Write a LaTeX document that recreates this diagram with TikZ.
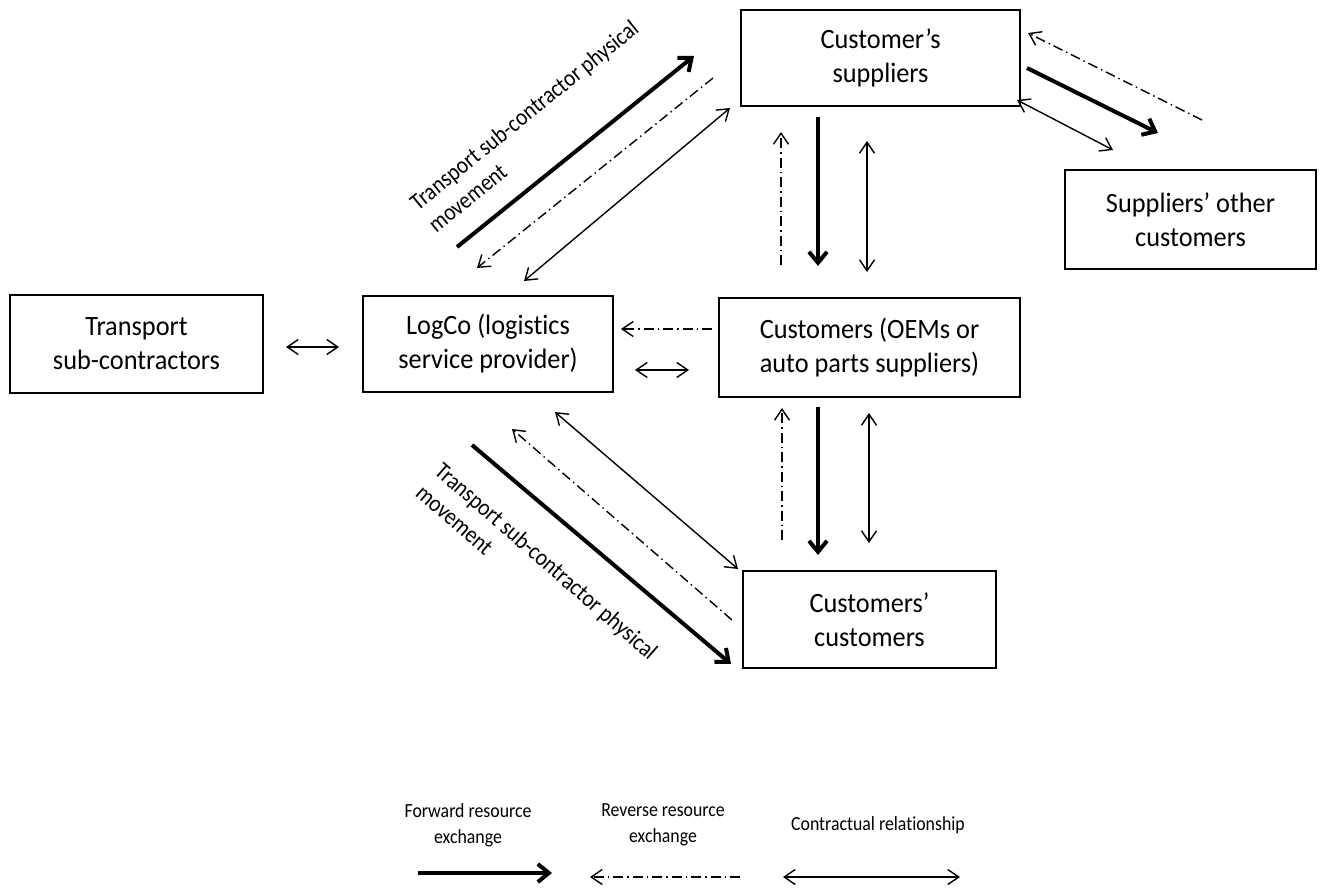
\documentclass[tikz,border=0pt]{standalone}
\usepackage{fontspec}
\setmainfont{Carlito}[FakeStretch=0.88, Ligatures=NoCommon]
\newfontfamily\boxfont{Carlito}[FakeStretch=0.94, Ligatures=NoCommon]
\newfontfamily\legfont{Carlito}[FakeStretch=0.89, Ligatures=NoCommon]
\usetikzlibrary{arrows.meta}
\tikzset{
  box/.style={draw, line width=1.8pt, rectangle, align=center, inner sep=0pt,
    font=\boxfont\fontsize{28}{34}\selectfont},
  lbl/.style={align=left, inner sep=0pt, font=\fontsize{24}{29}\selectfont},
  leg/.style={align=center, inner sep=0pt, font=\legfont\fontsize{20}{26}\selectfont},
  fwd/.style={line width=4pt, -{Straight Barb[length=11pt,width=18pt]}},
  rev/.style={line width=1.4pt, dash pattern=on 10pt off 4pt on 1.5pt off 4pt,
    -{Straight Barb[length=11pt,width=15pt]}},
  con/.style={line width=1.4pt, {Straight Barb[length=11pt,width=15pt]}-{Straight Barb[length=11pt,width=15pt]}}
}
\begin{document}
\begin{tikzpicture}[x=1pt,y=-1pt]
\useasboundingbox (0,0) rectangle (1321,888);
% boxes
\node[box, minimum width=279pt, minimum height=96pt] (cs) at (880.5,58) {Customer’s\\suppliers};
\node[box, minimum width=251pt, minimum height=99pt] (soc) at (1190.5,219.5) {Suppliers’ other\\customers};
\node[box, minimum width=253pt, minimum height=98pt] (ts) at (136.5,344) {Transport\\sub-contractors};
\node[box, minimum width=250pt, minimum height=96pt] (lc) at (488,344) {LogCo (logistics\\service provider)};
\node[box, minimum width=301pt, minimum height=99pt] (cu) at (869.5,347.5) {Customers (OEMs or\\auto parts suppliers)};
\node[box, minimum width=253pt, minimum height=97pt] (cc) at (869.5,619.5) {Customers’\\customers};
% connector end points
\coordinate (a1) at (457,247); \coordinate (a2) at (694,56);
\coordinate (b1) at (713,78);  \coordinate (b2) at (477,268);
\coordinate (c1) at (730,108); \coordinate (c2) at (524,281);
\coordinate (d1) at (1202,120); \coordinate (d2) at (1028,33);
\coordinate (e1) at (1027,68); \coordinate (e2) at (1158,133);
\coordinate (f1) at (1017,100); \coordinate (f2) at (1113,150);
\coordinate (g1) at (781,265); \coordinate (g2) at (781,132);
\coordinate (h1) at (818,117); \coordinate (h2) at (818,266);
\coordinate (i1) at (867,141); \coordinate (i2) at (867,272);
\coordinate (j1) at (782,540); \coordinate (j2) at (782,408);
\coordinate (k1) at (818,407); \coordinate (k2) at (818,555);
\coordinate (l1) at (869,413); \coordinate (l2) at (869,543);
\coordinate (m1) at (286,347); \coordinate (m2) at (339,347);
\coordinate (n1) at (712,329); \coordinate (n2) at (621,329);
\coordinate (o1) at (635,370); \coordinate (o2) at (689,370);
\coordinate (p1) at (555,412); \coordinate (p2) at (738,569);
\coordinate (q1) at (732,620); \coordinate (q2) at (512,429);
\coordinate (r1) at (472,445); \coordinate (r2) at (731,664);
% connectors
\draw[fwd] (a1) -- (a2);
\draw[rev] (b1) -- (b2);
\draw[con] (c1) -- (c2);
\draw[rev] (d1) -- (d2);
\draw[fwd] (e1) -- (e2);
\draw[con] (f1) -- (f2);
\draw[rev] (g1) -- (g2);
\draw[fwd] (h1) -- (h2);
\draw[con] (i1) -- (i2);
\draw[rev] (j1) -- (j2);
\draw[fwd] (k1) -- (k2);
\draw[con] (l1) -- (l2);
\draw[con] (m1) -- (m2);
\draw[rev] (n1) -- (n2);
\draw[con] (o1) -- (o2);
\draw[con] (p1) -- (p2);
\draw[rev] (q1) -- (q2);
\draw[fwd] (r1) -- (r2);
% diagonal labels
\node[lbl, rotate=39] (tl1) at (533,126) {Transport sub-contractor physical\\movement};
\node[lbl, rotate=-41] (tl2) at (537,572) {Transport sub-contractor physical\\movement};
% legend
\node[leg] (lg1) at (468,825) {Forward resource\\exchange};
\node[leg] (lg2) at (663,825) {Reverse resource\\exchange};
\node[leg] (lg3) at (878,825) {Contractual relationship};
\coordinate (s1) at (418,873); \coordinate (s2) at (552,873);
\coordinate (u1) at (740,877); \coordinate (u2) at (590,877);
\coordinate (v1) at (783,877); \coordinate (v2) at (960,877);
\draw[fwd] (s1) -- (s2);
\draw[rev] (u1) -- (u2);
\draw[con] (v1) -- (v2);
\end{tikzpicture}
\end{document}
